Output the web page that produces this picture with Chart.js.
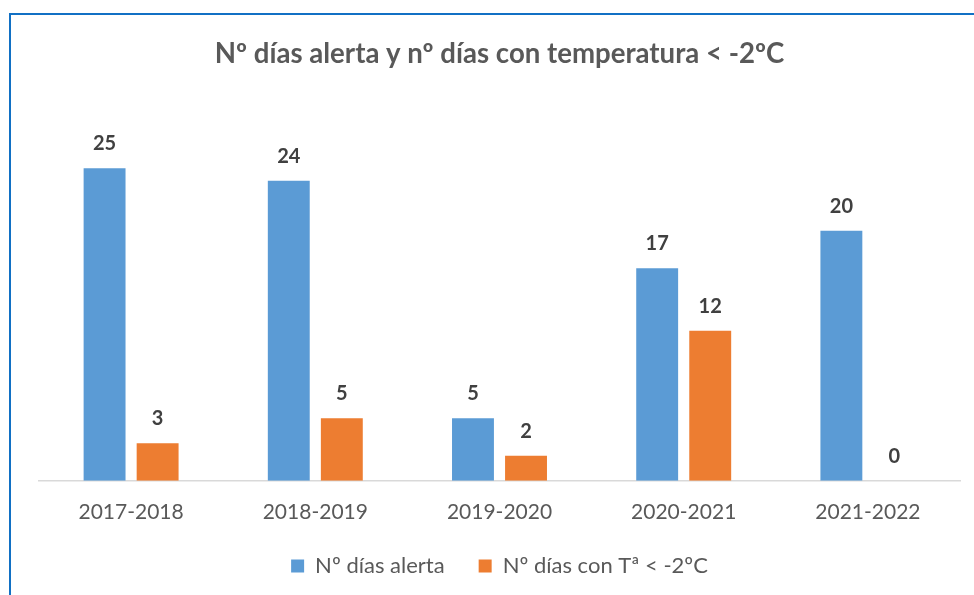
<!DOCTYPE html>
<html lang="es">
<head>
<meta charset="utf-8">
<title>Nº días alerta</title>
<script src="https://cdn.jsdelivr.net/npm/chart.js@4.4.1/dist/chart.umd.min.js"></script>
<style>
  html, body { margin: 0; padding: 0; background: #fff; overflow: hidden; }
  #wrap { position: relative; width: 974px; height: 595px; }
  #frame {
    position: absolute; left: 9px; top: 13px; width: 1000px; height: 700px;
    border-top: 2px solid #1170C4; border-left: 2px solid #1170C4;
    pointer-events: none;
  }
</style>
</head>
<body>
<div id="wrap">
  <canvas id="chart"></canvas>
  <div id="frame"></div>
</div>
<script>
// datos
const temporadas = ['2017-2018', '2018-2019', '2019-2020', '2020-2021', '2021-2022'];
const diasAlerta = [25, 24, 5, 17, 20];
const diasBajoCero = [3, 5, 2, 12, 0];
const nombres = ['Nº días alerta', 'Nº días con Tª < -2ºC'];
const colores = ['#5B9BD5', '#ED7D31'];

const fuente = 'Lato, "Open Sans", sans-serif';

// etiquetas de valor encima de cada barra
const etiquetasValor = {
  id: 'etiquetasValor',
  afterDatasetsDraw(chart) {
    const ctx = chart.ctx;
    ctx.save();
    ctx.font = 'bold 20px ' + fuente;
    ctx.fillStyle = '#404040';
    ctx.textAlign = 'center';
    ctx.textBaseline = 'alphabetic';
    chart.data.datasets.forEach((ds, i) => {
      chart.getDatasetMeta(i).data.forEach((bar, j) => {
        ctx.fillText(String(ds.data[j]), bar.x, bar.y - 18);
      });
    });
    ctx.restore();
  }
};

const config = {
  type: 'bar',
  data: {
    labels: temporadas,
    datasets: [
      { label: nombres[0], data: diasAlerta, backgroundColor: colores[0], borderWidth: 0 },
      { label: nombres[1], data: diasBajoCero, backgroundColor: colores[1], borderWidth: 0 }
    ]
  },
  options: {
    responsive: true,
    maintainAspectRatio: false,
    animation: false,
    categoryPercentage: 0.576,
    barPercentage: 0.79,
    layout: { padding: { left: 39, right: 14, top: 0, bottom: 8 } },
    scales: {
      x: {
        grid: { display: false, drawTicks: false },
        border: { display: true, color: '#D9D9D9', width: 1.5 },
        ticks: { color: '#595959', padding: 19, font: { family: fuente, size: 21 } },
        // el eje reserva el padding dos veces; quitamos el de abajo
        afterFit: (scale) => { scale.height -= scale.options.ticks.padding + 4; }
      },
      y: {
        display: false,
        min: 0,
        max: 30
      }
    },
    plugins: {
      title: {
        display: true,
        text: 'Nº días alerta y nº días con temperatura < -2ºC',
        color: '#595959',
        font: { family: fuente, size: 27.6, weight: 'bold' },
        padding: { top: 37.4, bottom: 35.1 }
      },
      legend: {
        position: 'bottom',
        labels: {
          color: '#595959',
          boxWidth: 13,
          boxHeight: 13,
          padding: 34,
          font: { family: fuente, size: 22 }
        }
      },
      tooltip: { enabled: false }
    }
  },
  plugins: [etiquetasValor]
};

new Chart(document.getElementById('chart').getContext('2d'), config);
</script>
</body>
</html>
